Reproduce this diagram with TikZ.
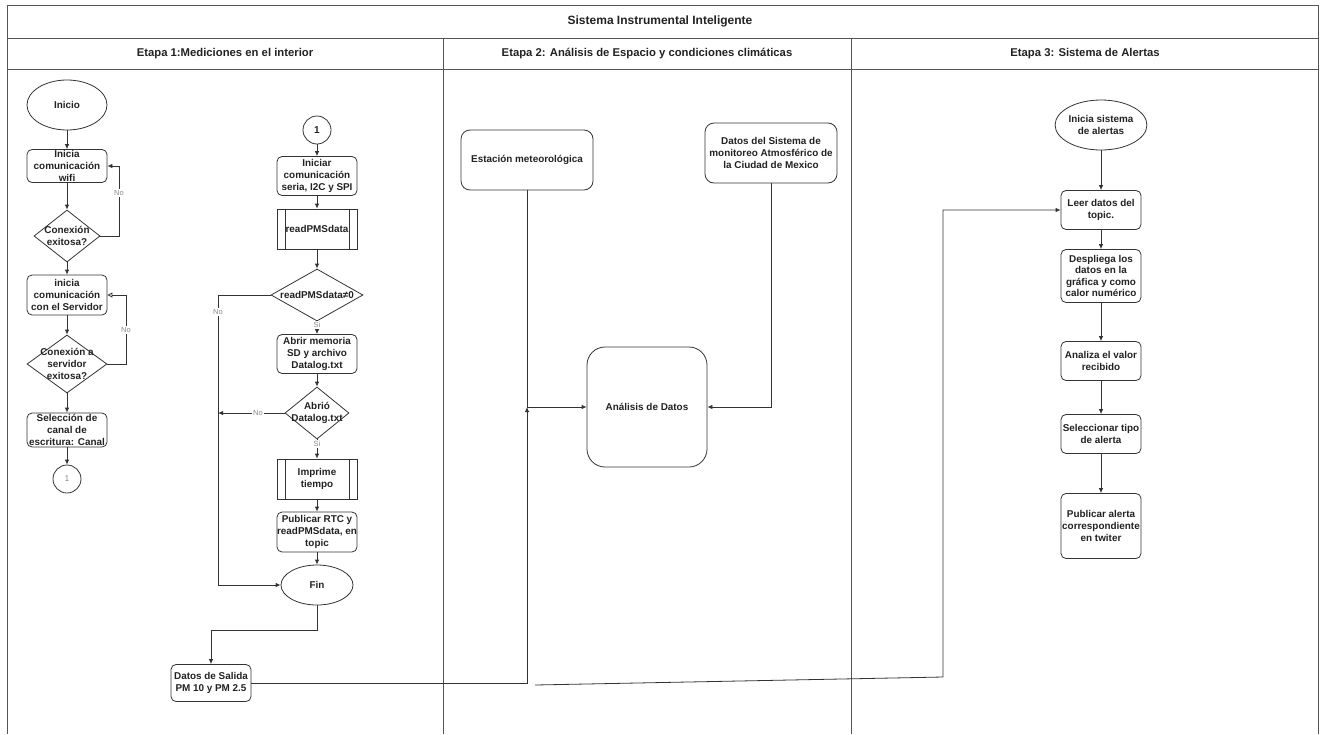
\documentclass[tikz,border=0pt]{standalone}
\usepackage{fontspec}
\setmainfont{Liberation Sans}
\usetikzlibrary{shapes.geometric,arrows.meta}
\definecolor{inkcol}{HTML}{222222}
\definecolor{lncol}{HTML}{333333}
\definecolor{softcol}{HTML}{8A8A8A}
\definecolor{lanecol}{HTML}{555555}

\begin{document}
\begin{tikzpicture}[x=1pt,y=-1pt,
  every node/.style={text=inkcol},
  txt/.style={font=\bfseries\fontsize{9.9}{11.6}\selectfont, align=center, inner sep=0pt},
  box/.style={txt, draw=lncol, line width=0.8pt, rounded corners=5pt, minimum width=80pt},
  proc/.style={txt, draw=lncol, line width=0.8pt, minimum width=80pt, minimum height=40pt,
    path picture={\draw[draw=lncol, line width=0.8pt]
      ([xshift=8pt]path picture bounding box.north west) -- ([xshift=8pt]path picture bounding box.south west)
      ([xshift=-8pt]path picture bounding box.north east) -- ([xshift=-8pt]path picture bounding box.south east);}},
  term/.style={txt, ellipse, draw=lncol, line width=0.8pt},
  conn/.style={circle, draw=lncol, line width=0.8pt, minimum size=28pt, inner sep=0pt},
  dec/.style={diamond, draw=lncol, line width=0.8pt, inner sep=0pt},
  arr/.style={draw=lncol, line width=0.8pt, -{Latex[length=5pt,width=4.5pt]}},
  oarr/.style={draw=lncol, line width=0.8pt, -{Triangle[open,length=5pt,width=5pt]}},
  ln/.style={draw=lncol, line width=0.8pt},
  lab/.style={font=\fontsize{7.5}{8}\selectfont, text=softcol, fill=white, inner sep=1pt},
  lane/.style={draw=lanecol, line width=1pt},
  head/.style={font=\bfseries\fontsize{11.3}{13}\selectfont},
]
\useasboundingbox (0,0) rectangle (1321,734);

% swimlane frame
\draw[lane] (7,734) -- (7,5) -- (1318,5) -- (1318,734);
\draw[lane] (7,38) -- (1318,38);
\draw[lane] (7,69) -- (1318,69);
\draw[lane] (443,38) -- (443,734);
\draw[lane] (851,38) -- (851,734);

\node[font=\bfseries\fontsize{12}{14}\selectfont] (title) at (660,21) {Sistema Instrumental Inteligente};
\node[head] (h1) at (225,54) {Etapa 1:Mediciones en el interior};
\node[head] (h2) at (647,54) {Etapa 2: Análisis de Espacio y condiciones climáticas};
\node[head] (h3) at (1085,54) {Etapa 3: Sistema de Alertas};

% Stage 1, connection sequence
\node[term, minimum width=80pt, minimum height=50pt] (inicio) at (67,105) {Inicio};
\node[box, minimum height=33pt] (wifi) at (67,166) {Inicia\\comunicación\\wifi};
\node[dec, minimum width=66pt, minimum height=52pt] (d1) at (67,236) {};
\node[txt] (d1t) at (67,236) {Conexión\\exitosa?};
\node[box, minimum height=40pt] (serv) at (67,295) {inicia\\comunicación\\con el Servidor};
\node[dec, minimum width=80pt, minimum height=58pt] (d2) at (67,364) {};
\node[txt] (d2t) at (67,364) {Conexión a\\servidor\\exitosa?};
\node[box, minimum height=34pt] (canal) at (67,430) {Selección de\\canal de\\escritura: Canal};
\node[conn, font=\fontsize{8.5}{9}\selectfont, text=softcol] (c1) at (67,479) {1};

\draw[arr] (inicio) -- (wifi);
\draw[arr] (wifi) -- (d1);
\draw[arr] (d1) -- (serv);
\draw[arr] (serv) -- (d2);
\draw[arr] (d2) -- (canal);
\draw[arr] (canal) -- (c1);
\coordinate (r1) at (119,236);
\coordinate (r2) at (126,364);
\draw[arr] (d1.east) -- (r1) |- (wifi.east);
\draw[oarr] (d2.east) -- (r2) |- (serv.east);
\node[lab] (no1) at (119,193) {No};
\node[lab] (no2) at (126,330) {No};

% Stage 1, measurement loop
\node[conn, font=\bfseries\fontsize{10}{11}\selectfont] (c2) at (317,130) {1};
\node[box, minimum height=39pt] (init) at (317,176) {Iniciar\\comunicación\\seria, I2C y SPI};
\node[proc] (read) at (317,229) {readPMSdata};
\node[dec, minimum width=92pt, minimum height=52pt] (d3) at (317,295) {};
\node[txt] (d3t) at (317,295) {readPMSdata≠0};
\node[box, minimum height=39pt] (sd) at (317,354) {Abrir memoria\\SD y archivo\\Datalog.txt};
\node[dec, minimum width=64pt, minimum height=52pt] (d4) at (317,413) {};
\node[txt] (d4t) at (317,413) {Abrió\\Datalog.txt};
\node[proc] (imp) at (317,479) {Imprime\\tiempo};
\node[box, minimum height=40pt] (pub) at (317,532) {Publicar RTC y\\readPMSdata, en\\topic};
\node[term, minimum width=72pt, minimum height=40pt] (fin) at (317,585) {Fin};
\node[box, minimum height=37pt] (datos) at (211,683) {Datos de Salida\\PM 10 y PM 2.5};

\draw[arr] (c2) -- (init);
\draw[arr] (init) -- (read);
\draw[arr] (read) -- (d3);
\draw[arr] (d3) -- (sd);
\draw[arr] (sd) -- (d4);
\draw[arr] (d4) -- (imp);
\draw[arr] (imp) -- (pub);
\draw[arr] (pub) -- (fin);
\coordinate (nol) at (218,295);
\draw[arr] (d3.west) -- (nol) |- (fin.west);
\draw[arr] (d4.west) -- (nol |- d4.west);
\node[lab] (no3) at (218,312) {No};
\node[lab] (no4) at (258,413) {No};
\node[lab] (si1) at (317,325) {Si};
\node[lab] (si2) at (317,444) {Si};
\coordinate (fturn) at (317,630);
\draw[arr] (fin.south) -- (fturn) -| (datos.north);

% Stage 2
\node[box, rounded corners=9pt, minimum width=132pt, minimum height=60pt] (est) at (527,160) {Estación meteorológica};
\node[box, rounded corners=9pt, minimum width=132pt, minimum height=60pt] (sima) at (771,153) {Datos del Sistema de\\monitoreo Atmosférico de\\la Ciudad de Mexico};
\node[box, rounded corners=18pt, minimum width=120pt, minimum height=120pt] (ana) at (647,407) {Análisis de Datos};
\coordinate (j1) at (527,407);
\draw[arr] (datos.east) -| (j1);
\draw[arr] (est.south) |- (ana.west);
\draw[arr] (sima.south) |- (ana.east);

% Stage 3
\node[term, minimum width=80pt, minimum height=50pt] (alst) at (1101,125) {Inicia sistema\\de alertas};
\node[box, minimum height=39pt] (leer) at (1101,210) {Leer datos del\\topic.};
\node[box, minimum height=53pt] (desp) at (1101,276) {Despliega los\\datos en la\\gráfica y como\\calor numérico};
\node[box, minimum height=39pt] (anal) at (1101,361) {Analiza el valor\\recibido};
\node[box, minimum height=39pt] (sel) at (1101,434) {Seleccionar tipo\\de alerta};
\node[box, minimum height=65pt] (pubal) at (1101,526) {Publicar alerta\\correspondiente\\en twiter};
\draw[arr] (alst) -- (leer);
\draw[arr] (leer) -- (desp);
\draw[arr] (desp) -- (anal);
\draw[arr] (anal) -- (sel);
\draw[arr] (sel) -- (pubal);
\coordinate (s0) at (535,685);
\coordinate (s1) at (943,677);
\draw[arr] (s0) -- (s1) |- (leer.west);
\end{tikzpicture}
\end{document}
